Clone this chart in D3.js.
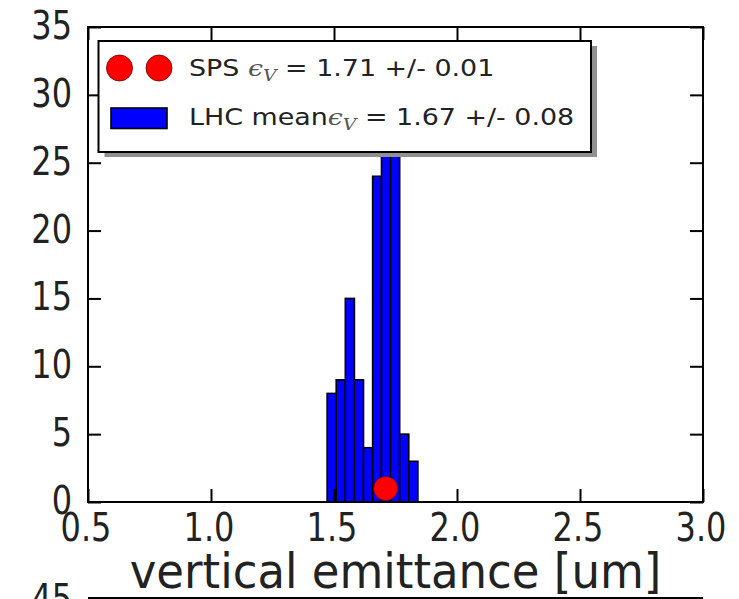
<!DOCTYPE html>
<html lang="en">
<head>
    <meta charset="UTF-8">
    <title>Vertical emittance histogram</title>
    <script src="https://d3js.org/d3.v7.min.js"></script>
    <style>
        body {
            margin: 0;
            background-color: white;
            font-family: "DejaVu Sans", sans-serif;
        }
        svg text {
            font-family: "DejaVu Sans", sans-serif;
            fill: #222;
        }
    </style>
</head>
<body>
    <svg id="chart" width="739" height="599"></svg>

    <script>
        // histogram of LHC vertical emittance (bin edges + counts)
        const binEdges = [1.472, 1.509, 1.546, 1.583, 1.620, 1.657, 1.693, 1.730, 1.767, 1.804, 1.841];
        const binCounts = [8, 9, 15, 9, 4, 24, 30, 29, 5, 3];

        // SPS measurement point
        const spsX = [1.71];
        const spsY = [1];

        const xTicks = [0.5, 1.0, 1.5, 2.0, 2.5, 3.0];
        const yTicks = [0, 5, 10, 15, 20, 25, 30, 35];
        const spsLabel = ["SPS ", " = 1.71 +/- 0.01"];
        const lhcLabel = ["LHC mean", " = 1.67 +/- 0.08"];
        const xLabel = "vertical emittance [um]";

        const margin = { top: 27, right: 36, bottom: 97, left: 88 };
        const width = 739 - margin.left - margin.right;
        const height = 599 - margin.top - margin.bottom;

        const svg = d3.select("#chart");

        const x = d3.scaleLinear().domain([0.5, 3.0]).range([margin.left, margin.left + width]);
        const y = d3.scaleLinear().domain([0, 35]).range([margin.top + height, margin.top]);

        // bars
        const bins = binCounts.map((c, i) => ({ x0: binEdges[i], x1: binEdges[i + 1], count: c }));
        svg.append("g")
            .selectAll("rect")
            .data(bins)
            .enter()
            .append("rect")
            .attr("x", d => x(d.x0))
            .attr("y", d => y(d.count))
            .attr("width", d => x(d.x1) - x(d.x0))
            .attr("height", d => y(0) - y(d.count))
            .attr("fill", "#0000ff")
            .attr("stroke", "#000")
            .attr("stroke-width", 1.6);

        // SPS marker
        svg.append("g")
            .selectAll("circle")
            .data(spsX.map((v, i) => ({ x: v, y: spsY[i] })))
            .enter()
            .append("circle")
            .attr("cx", d => x(d.x))
            .attr("cy", d => y(d.y))
            .attr("r", 12)
            .attr("fill", "#ff0000")
            .attr("stroke", "#600")
            .attr("stroke-width", 0.6);

        // inward ticks on all four sides
        const tick = 13;
        svg.append("g")
            .attr("transform", `translate(0,${y(0)})`)
            .call(d3.axisBottom(x).tickValues(xTicks).tickSizeInner(-tick).tickSizeOuter(0).tickFormat(""));
        svg.append("g")
            .attr("transform", `translate(0,${y(35)})`)
            .call(d3.axisTop(x).tickValues(xTicks).tickSizeInner(-tick).tickSizeOuter(0).tickFormat(""));
        svg.append("g")
            .attr("transform", `translate(${x(0.5)},0)`)
            .call(d3.axisLeft(y).tickValues(yTicks).tickSizeInner(-tick).tickSizeOuter(0).tickFormat(""));
        svg.append("g")
            .attr("transform", `translate(${x(3.0)},0)`)
            .call(d3.axisRight(y).tickValues(yTicks).tickSizeInner(-tick).tickSizeOuter(0).tickFormat(""));
        svg.selectAll(".domain").remove();
        svg.selectAll(".tick line").attr("stroke", "#000").attr("stroke-width", 2);

        // frame
        svg.append("rect")
            .attr("x", x(0.5))
            .attr("y", y(35))
            .attr("width", width)
            .attr("height", height)
            .attr("fill", "none")
            .attr("stroke", "#000")
            .attr("stroke-width", 2);

        // tick labels (picture is slightly stretched vertically)
        const stretch = 1.2;
        svg.append("g")
            .selectAll("text")
            .data(xTicks)
            .enter()
            .append("text")
            .attr("text-anchor", "middle")
            .attr("transform", d => `translate(${x(d) - 2},541) scale(1,${stretch})`)
            .style("font-size", "32px")
            .text(d => d.toFixed(1));

        svg.append("g")
            .selectAll("text")
            .data(yTicks)
            .enter()
            .append("text")
            .attr("text-anchor", "end")
            .attr("transform", d => `translate(72,${y(d) + 12}) scale(1,${stretch})`)
            .style("font-size", "32px")
            .text(d => d);

        // x label
        svg.append("text")
            .attr("text-anchor", "middle")
            .attr("transform", `translate(${x(1.75)},588) scale(1,1.05)`)
            .style("font-size", "45px")
            .text(xLabel);

        // legend
        const lg = svg.append("g");
        const lx = 98.5, ly = 41, lw = 492.5, lh = 111;
        lg.append("rect")
            .attr("x", lx + 6).attr("y", ly + 5)
            .attr("width", lw).attr("height", lh)
            .attr("fill", "#909090");
        lg.append("rect")
            .attr("x", lx).attr("y", ly)
            .attr("width", lw).attr("height", lh)
            .attr("fill", "white")
            .attr("stroke", "#000")
            .attr("stroke-width", 2);

        lg.selectAll("circle")
            .data([119.5, 159])
            .enter()
            .append("circle")
            .attr("cx", d => d)
            .attr("cy", 68)
            .attr("r", 13)
            .attr("fill", "#ff0000")
            .attr("stroke", "#600")
            .attr("stroke-width", 0.8);

        lg.append("rect")
            .attr("x", 111).attr("y", 108)
            .attr("width", 56).attr("height", 20.5)
            .attr("fill", "#0000ff")
            .attr("stroke", "#000")
            .attr("stroke-width", 1.6);

        function legendText(parts, ty) {
            const t = lg.append("text")
                .attr("transform", `translate(189,${ty}) scale(1.17,1)`)
                .style("font-size", "23px");
            t.append("tspan").text(parts[0]);
            t.append("tspan")
                .style("font-family", "DejaVu Serif")
                .style("font-style", "italic")
                .style("fill", "#555")
                .text("\u03f5");
            t.append("tspan")
                .attr("dy", 5)
                .style("font-family", "DejaVu Serif")
                .style("font-style", "italic")
                .style("font-size", "16px")
                .style("fill", "#555")
                .text("V");
            t.append("tspan")
                .attr("dy", -5)
                .text(parts[1]);
        }
        legendText(spsLabel, 76);
        legendText(lhcLabel, 125);

        // top of the next subplot peeking in at the bottom
        svg.append("line")
            .attr("x1", x(0.5)).attr("x2", x(3.0))
            .attr("y1", 598).attr("y2", 598)
            .attr("stroke", "#000")
            .attr("stroke-width", 2);
        svg.append("text")
            .attr("text-anchor", "end")
            .attr("transform", `translate(72,612) scale(1,${stretch})`)
            .style("font-size", "32px")
            .text("45");
    </script>
</body>
</html>
